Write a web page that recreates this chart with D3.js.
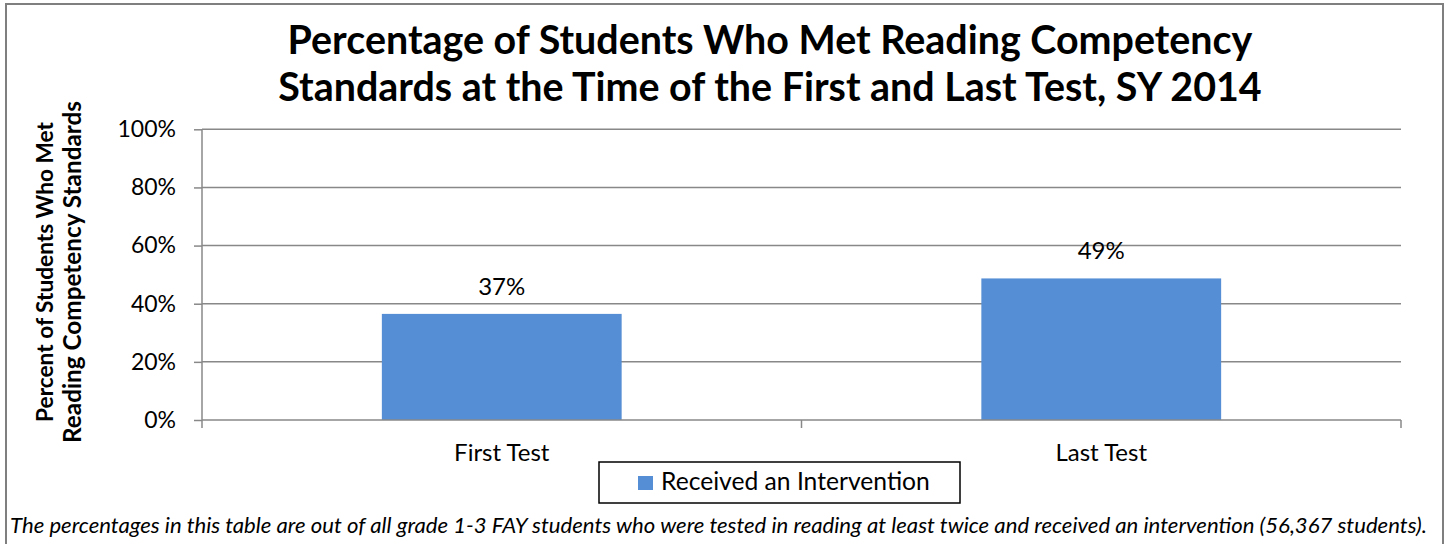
<!DOCTYPE html>
<html>
<head>
<meta charset="UTF-8">
<title>Reading competency</title>
<style>
  body { margin: 0; background: #fff; }
  svg text { font-family: Lato, "Open Sans", sans-serif; fill: #000; }
</style>
</head>
<body>
<script src="https://cdn.jsdelivr.net/npm/d3@7/dist/d3.min.js"></script>
<svg id="chart" width="1447" height="544"></svg>
<script>
const categories = ["First Test", "Last Test"];
const values = [36.5, 48.7];
const seriesName = "Received an Intervention";
const yTicks = [0, 20, 40, 60, 80, 100];
const titleLines = ["Percentage of Students Who Met Reading Competency",
                    "Standards at the Time of the First and Last Test, SY 2014"];
const yTitleLines = ["Percent of Students Who Met", "Reading Competency Standards"];
const footnote = "The percentages in this table are out of all grade 1-3 FAY students who were tested in reading at least twice and received an intervention (56,367 students).";

const svg = d3.select("#chart");
const barColor = "#558ed5", gridColor = "#888";

// fit a text element to a target width by changing its font size
function fitWidth(sel, w) {
  const len = sel.node().getComputedTextLength();
  const fs = parseFloat(sel.attr("font-size"));
  sel.attr("font-size", fs * w / len);
}

// outer frame
svg.append("rect").attr("x", 6).attr("y", 4).attr("width", 1437).attr("height", 560)
  .attr("fill", "none").attr("stroke", "#7f7f7f").attr("stroke-width", 2);

const x = d3.scaleBand().domain(categories).range([202, 1401]).paddingInner(0.6).paddingOuter(0.3);
const y = d3.scaleLinear().domain([0, 100]).range([420, 129.3]);

// gridlines
svg.append("g").selectAll("line").data(yTicks.filter(d => d > 0)).join("line")
  .attr("x1", 202).attr("x2", 1401).attr("y1", d => y(d)).attr("y2", d => y(d))
  .attr("stroke", gridColor).attr("stroke-width", 1.5);

// bars
svg.append("g").selectAll("rect").data(values).join("rect")
  .attr("x", (d, i) => x(categories[i])).attr("width", x.bandwidth())
  .attr("y", d => y(d)).attr("height", d => y(0) - y(d))
  .attr("fill", barColor);

// value labels
svg.append("g").selectAll("text").data(values).join("text")
  .attr("x", (d, i) => x(categories[i]) + x.bandwidth() / 2)
  .attr("y", d => y(d) - 19).attr("text-anchor", "middle")
  .attr("font-size", 24).text(d => Math.round(d) + "%");

// y axis
const yAxis = svg.append("g").attr("transform", "translate(202,0)")
  .call(d3.axisLeft(y).tickValues(yTicks).tickSize(8).tickPadding(18).tickFormat(d => d + "%"));
yAxis.select(".domain").attr("stroke", gridColor).attr("stroke-width", 1.5).attr("d", "M0,129.3V420");
yAxis.selectAll(".tick line").attr("stroke", gridColor).attr("stroke-width", 1.5);
yAxis.selectAll(".tick text").attr("font-size", 23).attr("font-family", "Lato, sans-serif").attr("fill", "#000");

// x axis
const xAxis = svg.append("g").attr("transform", "translate(0,420)")
  .call(d3.axisBottom(x).tickSize(0).tickPadding(24));
xAxis.select(".domain").attr("stroke", gridColor).attr("stroke-width", 1.5)
  .attr("d", "M202,0H1401");
xAxis.selectAll(".tick text").attr("font-size", 24).attr("font-family", "Lato, sans-serif").attr("fill", "#000");
// category boundary ticks
const bounds = [202, x(categories[1]) - x.step() * x.paddingInner() / 2, 1401];
xAxis.append("g").selectAll("line").data(bounds).join("line")
  .attr("x1", d => d).attr("x2", d => d).attr("y1", 0).attr("y2", 8)
  .attr("stroke", gridColor).attr("stroke-width", 1.5);

// title
const title = svg.append("g").attr("font-weight", "bold");
const tW = [965, 984];
titleLines.forEach((t, i) => {
  const el = title.append("text").attr("x", 770).attr("y", 54 + i * 47)
    .attr("text-anchor", "middle").attr("font-size", 34).text(t);
  fitWidth(el, tW[i]);
});

// y title
const yW = [300, 342];
yTitleLines.forEach((t, i) => {
  const el = svg.append("text").attr("transform", `translate(${53 + i * 28},272) rotate(-90)`)
    .attr("text-anchor", "middle").attr("font-weight", "bold").attr("font-size", 20).text(t);
  fitWidth(el, yW[i]);
});

// legend
const lg = svg.append("g");
lg.append("rect").attr("x", 599).attr("y", 462).attr("width", 361).attr("height", 41)
  .attr("fill", "#fff").attr("stroke", "#000").attr("stroke-width", 1.5);
lg.append("rect").attr("x", 638).attr("y", 476).attr("width", 15).attr("height", 14).attr("fill", barColor);
const lt = lg.append("text").attr("x", 661).attr("y", 490).attr("font-size", 22).text(seriesName);
fitWidth(lt, 269);

// footnote
const fn = svg.append("text").attr("x", 10).attr("y", 533).attr("font-style", "italic")
  .attr("font-size", 18).text(footnote);
fitWidth(fn, 1418);
</script>
</body>
</html>
